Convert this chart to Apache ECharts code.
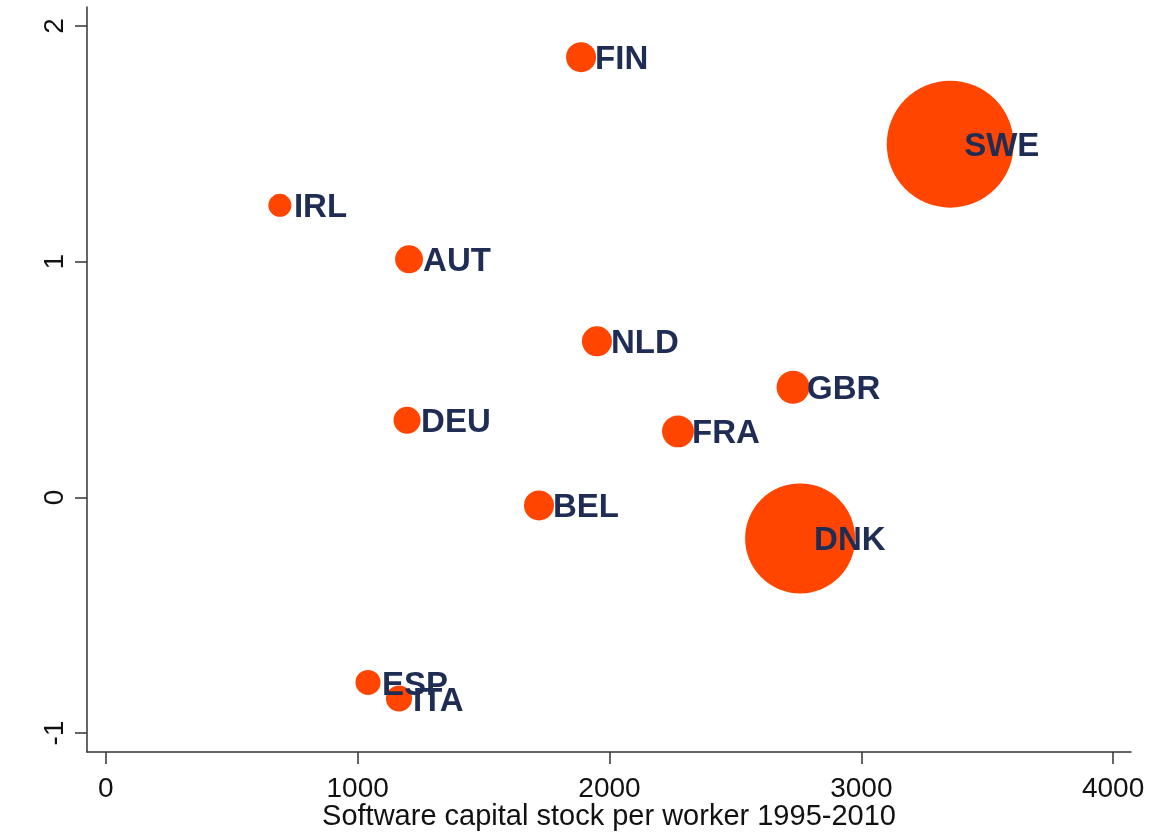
<!DOCTYPE html>
<html>
<head>
<meta charset="utf-8">
<script src="https://cdn.jsdelivr.net/npm/echarts@6/dist/echarts.min.js"></script>
<style>html,body{margin:0;padding:0;background:#fff;}#c{width:1152px;height:835px;}</style>
</head>
<body>
<div id="c"></div>
<script>
const countries = ["FIN","SWE","IRL","AUT","NLD","GBR","DEU","FRA","BEL","DNK","ESP","ITA"];
const softwareCapital = [1887,3353,691,1204,1950,2729,1196,2272,1720,2757,1041,1164];
const yValues = [1.867,1.498,1.239,1.010,0.662,0.467,0.327,0.280,-0.034,-0.174,-0.785,-0.853];
const weights = [9.0,161,5.3,7.8,9.0,10.9,7.3,10.2,9.0,121,6.3,6.8];
const xTicks = [0,1000,2000,3000,4000];
const yTicks = [-1,0,1,2];
const xTitle = "Software capital stock per worker 1995-2010";

const data = countries.map((c,i)=>({name:c, value:[softwareCapital[i], yValues[i], weights[i]]}));
const axisColor = '#333';
const chart = echarts.init(document.getElementById('c'), null, {renderer:'canvas'});
chart.setOption({
  animation:false,
  backgroundColor:'#fff',
  grid:{left:87,right:21,top:7,bottom:83,containLabel:false,outerBoundsMode:'none'},
  xAxis:{
    type:'value', min:-75, max:4071,
    splitLine:{show:false},
    axisLine:{show:true, onZero:false, lineStyle:{color:axisColor,width:1.5}},
    axisTick:{show:true, length:12, customValues:xTicks, lineStyle:{color:axisColor,width:1.5}},
    axisLabel:{customValues:xTicks, formatter:(v)=>String(v), fontFamily:'Liberation Sans', fontSize:28, color:'#111', margin:23},
    name:xTitle, nameLocation:'middle', nameGap:65, nameMoveOverlap:false,
    nameTextStyle:{fontFamily:'Liberation Sans', fontSize:29, color:'#111', verticalAlign:'middle'}
  },
  yAxis:{
    type:'value', min:-1.08, max:2.08,
    splitLine:{show:false},
    axisLine:{show:true, onZero:false, lineStyle:{color:axisColor,width:1.5}},
    axisTick:{show:true, length:12, customValues:yTicks, lineStyle:{color:axisColor,width:1.5}},
    axisLabel:{customValues:yTicks, formatter:(v)=>String(v), rotate:90, fontFamily:'Liberation Sans', fontSize:28, color:'#111', margin:18}
  },
  series:[{
    type:'scatter',
    data:data,
    symbol:'circle',
    symbolSize:(v)=>Math.sqrt(v[2])*10,
    itemStyle:{color:'#ff4500', opacity:1},
    label:{show:false},
    emphasis:{disabled:true},
    z:2
  },{
    type:'scatter',
    data:data,
    symbol:'circle',
    symbolSize:2,
    symbolOffset:[13,3],
    itemStyle:{color:'rgba(0,0,0,0)'},
    label:{
      show:true, position:'right', distance:0, align:'left', verticalAlign:'middle',
      formatter:'{b}', opacity:1, textBorderWidth:0,
      fontFamily:'Liberation Sans', fontSize:33, fontWeight:'bold', color:'#1f2d54'
    },
    labelLayout:{hideOverlap:false},
    emphasis:{disabled:true},
    z:3
  }]
});
</script>
</body>
</html>
